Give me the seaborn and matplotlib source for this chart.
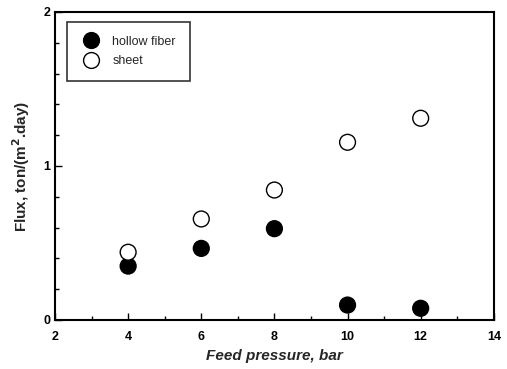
import matplotlib
matplotlib.use("Agg")
import matplotlib.pyplot as plt
import seaborn as sns
import pandas as pd
from matplotlib.ticker import MultipleLocator

pressure = [4, 6, 8, 10, 12]
hollow_fiber = [0.35, 0.465, 0.593, 0.097, 0.076]
sheet = [0.44, 0.656, 0.844, 1.154, 1.31]
series_names = ["hollow fiber", "sheet"]

sns.set_theme(style="ticks")
plt.rcParams['font.family'] = ['Liberation Sans', 'DejaVu Sans']

df = pd.DataFrame({
    "pressure": pressure * 2,
    "flux": hollow_fiber + sheet,
    "series": [series_names[0]] * len(pressure) + [series_names[1]] * len(pressure),
})

fig = plt.figure(figsize=(5.07, 3.69), dpi=100)
ax = fig.add_axes([0.1085, 0.1328, 0.8655, 0.8347])

sns.scatterplot(data=df, x="pressure", y="flux", hue="series", style="series",
                palette={"hollow fiber": "black", "sheet": "white"},
                markers={"hollow fiber": "o", "sheet": "o"},
                s=130, edgecolor="black", linewidth=1.0, ax=ax, legend=True, zorder=3)

ax.set_xlim(2, 14)
ax.set_ylim(0, 2)
ax.xaxis.set_major_locator(MultipleLocator(2))
ax.xaxis.set_minor_locator(MultipleLocator(1))
ax.yaxis.set_major_locator(MultipleLocator(1))
ax.yaxis.set_minor_locator(MultipleLocator(0.2))
ax.tick_params(which="both", direction="in", top=False, right=False,
               labelsize=9, width=1, colors="black")
ax.tick_params(which="major", length=5)
ax.tick_params(which="minor", length=3)
ax.tick_params(axis="x", which="major", pad=8)
for lab in ax.get_xticklabels() + ax.get_yticklabels():
    lab.set_fontweight("bold")
for sp in ax.spines.values():
    sp.set_visible(True)
    sp.set_linewidth(1.5)
    sp.set_color("black")

ax.set_xlabel("Feed pressure, bar", fontsize=11, fontweight="bold", style="italic", labelpad=4)
ax.set_ylabel("Flux, ton/(m$^\\mathbf{2}$.day)", fontsize=11, fontweight="bold", labelpad=8)

leg = ax.legend(loc="upper left", bbox_to_anchor=(0.027, 0.968), borderaxespad=0,
                frameon=True, fancybox=False, edgecolor="black", fontsize=9,
                borderpad=1.1, handletextpad=0.95, labelspacing=0.6, markerscale=1.0,
                handlelength=1.6)
leg.get_frame().set_linewidth(1.2)
leg.set_title(None)

fig.savefig("out.png", dpi=100)
